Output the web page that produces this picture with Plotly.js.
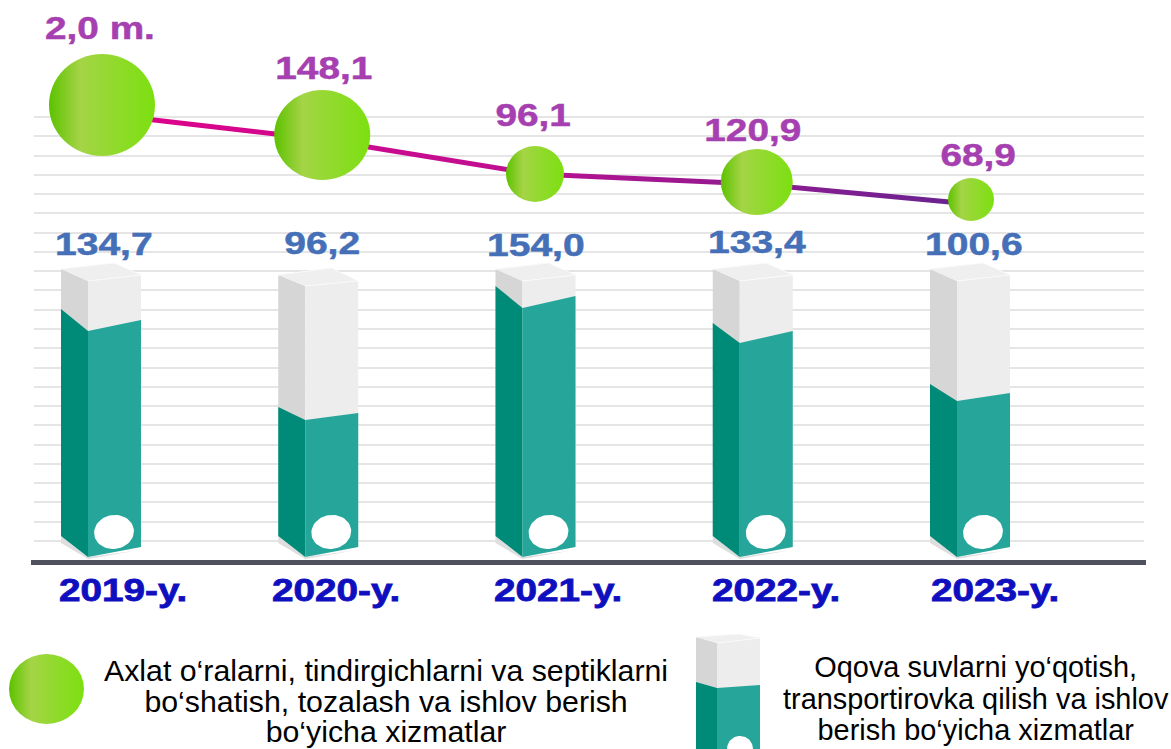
<!DOCTYPE html>
<html><head><meta charset="utf-8">
<script src="https://cdn.plot.ly/plotly-3.0.1.min.js"></script>
<style>html,body{margin:0;padding:0;background:#fff;overflow:hidden}</style>
</head><body><div id="chart" style="width:1171px;height:749px"></div>
<script>
// ---- chart content ----
const years = ['2019-y.', '2020-y.', '2021-y.', '2022-y.', '2023-y.'];
const wasteLabels = ['2,0 m.', '148,1', '96,1', '120,9', '68,9'];
const waterLabels = ['134,7', '96,2', '154,0', '133,4', '100,6'];
const legendWaste = ['Axlat o\u2018ralarni, tindirgichlarni va septiklarni', 'bo\u2018shatish, tozalash va ishlov berish', 'bo\u2018yicha xizmatlar'];
const legendWater = ['Oqova suvlarni yo\u2018qotish,', 'transportirovka qilish va ishlov', 'berish bo\u2018yicha xizmatlar'];

// ---- levels (decorative scale, height above the bar foot) ----
const fillFront = [237, 144, 261, 226, 164];   // teal height at right edge of the front face
const fillInner = [226, 137, 249, 214, 156];   // teal height at the front corner
const fillLeft  = [248, 150, 271, 234, 173];   // teal height at left edge of side face
const capLeft   = [288, 282, 288, 288, 288];
const capBack   = [294, 289, 294, 294, 294];
const capRight  = [282, 276, 282, 282, 282];
const capInner  = [276, 271, 276, 276, 276];
const bubbleLevel = [452, 422, 383, 375, 357.5];
const lineLevel   = [443, 417.5, 383, 373, 353];
const bubbleWidth  = [106, 96, 58, 72, 46];
const bubbleHeight = [102, 90, 56, 66, 43];
const wasteLabelLevel = [529, 489, 442, 427, 402];
const waterLabelLevel = [313, 314, 312, 315, 313];

// ---- page geometry ----
const W = 1171, H = 749, STEP = 217.25, X0 = 114.5, FOOT = 557;
const xPage = p => (p - X0) / STEP;
const yPage = p => FOOT - p;
const off = px => px / STEP;
const bubbleShift = [-12.5, -9.5, -14, -9.5, -12.5];
const wasteLabelShift = [-14.5, -7.5, -16, -13.5, -5.5];
const waterLabelShift = [-10.5, -10, -13, -9, -9.5];
const yearShift = [8, 4.5, 9, 9.5, 11.5];
const SIDE = 27, FRONT = 53;

const idx = years.map((_, i) => i);
function poly(list) { // list of [[x,y],...] polygons -> null separated
  const x = [], y = [];
  list.forEach(p => { p.forEach(q => { x.push(q[0]); y.push(q[1]); }); x.push(null); y.push(null); });
  return {x, y};
}
function area(color, list, line) {
  const p = poly(list);
  return {type:'scatter', mode:'lines', x:p.x, y:p.y, xaxis:'x2', yaxis:'y2', fill:'toself', fillcolor:color,
          line: line || {width:0, color:color}, hoverinfo:'skip', showlegend:false};
}
function ellipse(cx, cy, rx, ry, tilt) {
  const out = [];
  for (let a = 0; a <= 360; a += 6) {
    const t = a * Math.PI / 180, ex = rx * Math.cos(t), ey = ry * Math.sin(t);
    const c = Math.cos(tilt), s = Math.sin(tilt);
    out.push([cx + off(ex * c - ey * s), cy + (ex * s + ey * c)]);
  }
  return out;
}
// one column: side/front/cap polygons around centre c
function col(c, foot, fL, fI, fR, cL, cB, cR, cI, side, front) {
  const xl = c - off(front / 2 + side), xi = c - off(front / 2), xr = c + off(front / 2), xb = xr - off(side);
  return {
    shadow: [[xl, foot + 21], [xi, foot], [xr, foot + 7], [xr - off(1), foot + 7], [xi, foot - 2], [xl, foot + 14]],
    sideGrey: [[xl, cL], [xi, cI], [xi, foot], [xl, foot + 21]],
    frontGrey: [[xi, cI], [xr, cR], [xr, foot + 10], [xi, foot]],
    cap: [[xl, cL], [xb, cB], [xr, cR], [xi, cI]],
    sideTeal: [[xl, fL], [xi, fI], [xi, foot], [xl, foot + 21]],
    frontTeal: [[xi, fI], [xr, fR], [xr, foot + 10], [xi, foot]]
  };
}
const cols = idx.map(i => col(i, 0, fillLeft[i], fillInner[i], fillFront[i], capLeft[i], capBack[i], capRight[i], capInner[i], SIDE, FRONT));
// legend glyph column
const legendCol = col(xPage(738.5), yPage(790), yPage(682), yPage(688), yPage(685), yPage(637), yPage(634), yPage(638), yPage(643), 21, 43);

const gather = k => cols.map(c => c[k]).concat([legendCol[k]]);
const holes = idx.map(i => ellipse(i - off(0.5), 25, 20, 17, 0.15)).concat([ellipse(xPage(740), yPage(749), 13, 13, 0)]);

const traces = [
  {type:'scatter', mode:'none', x:[0,1], y:[0,1], xaxis:'x', yaxis:'y', hoverinfo:'skip', showlegend:false},
  {type:'scatter', mode:'lines', x:[xPage(31), xPage(1146)], y:[yPage(562.5), yPage(562.5)], xaxis:'x2', yaxis:'y2',
   line:{color:'#50515f', width:5}, hoverinfo:'skip', showlegend:false},
  area('#dedede', cols.map(c => c.shadow)),
  area('#d6d6d6', gather('sideGrey')),
  area('#ededed', gather('frontGrey')),
  area('#efefef', gather('cap'), {width:1, color:'#fafafa'}),
  area('#008b79', gather('sideTeal')),
  area('#26a69a', gather('frontTeal')),
  area('#ffffff', holes),
  {type:'scatter', mode:'lines', x:idx.map(i => i + off(bubbleShift[i])), y:lineLevel, xaxis:'x2', yaxis:'y2',
   line:{color:'#c00f90', width:5}, hoverinfo:'skip', showlegend:false},
  {type:'scatter', mode:'markers', x:idx.map(i => i + off(bubbleShift[i])), y:bubbleLevel, xaxis:'x2', yaxis:'y2',
   marker:{size:bubbleWidth, sizemode:'diameter', opacity:1, color:'#7fe015', line:{width:0}, gradient:{type:'horizontal', color:'#5fc400'}},
   hoverinfo:'skip', showlegend:false},
  {type:'scatter', mode:'markers', x:[xPage(46.5)], y:[yPage(689)], xaxis:'x2', yaxis:'y2',
   marker:{size:[75], sizemode:'diameter', opacity:1, color:'#7fe015', line:{width:0}, gradient:{type:'horizontal', color:'#5fc400'}},
   hoverinfo:'skip', showlegend:false}
];

const notes = [], stretches = [], strokes = [], spacing = [];
function note(text, x, y, size, color, stretch, stroke, lineGap) {
  notes.push({text:text, x:x, y:y, xref:'x2', yref:'y2', showarrow:false, xanchor:'center', yanchor:'middle',
              font:{family:'"Liberation Sans", Arial, sans-serif', size:size, color:color, weight: stroke ? 700 : 400}});
  stretches.push(stretch); strokes.push(stroke ? [color, stroke] : null); spacing.push(lineGap || 0);
}
idx.forEach(i => {
  note(wasteLabels[i], i + off(wasteLabelShift[i]), wasteLabelLevel[i], 31, '#a63fb0', 1.25, 0.5);
  note(waterLabels[i], i + off(waterLabelShift[i]), waterLabelLevel[i], 31, '#4570b8', 1.26, 0.5);
  note(years[i], i + off(yearShift[i]), yPage(590), 32, '#0f0fbf', 1.21, 0.8);
});
// legend texts: first-line centre + 1.3em, since the block is centred before the line gap is tightened
note(legendWaste.join('<br>'), xPage(386), yPage(671 + 1.3 * 30.3), 30.3, '#000000', 1, 0, 30.5);
note(legendWater.join('<br>'), xPage(975.5), yPage(667 + 1.3 * 28.9), 28.9, '#000000', 1, 0, 31.5);

const GRID = 19.27;
const layout = {
  width:W, height:H, margin:{l:0, r:0, t:0, b:0, pad:0}, paper_bgcolor:'#fff', plot_bgcolor:'rgba(0,0,0,0)', showlegend:false,
  xaxis:{domain:[34/W, 1144/W], range:[0,1], visible:true, showgrid:false, zeroline:false, showticklabels:false, ticks:'', showline:false, anchor:'y', fixedrange:true},
  yaxis:{domain:[1 - (541 + GRID)/H, 1 - (117 - GRID)/H], range:[-1,23], tick0:0, dtick:1, showgrid:true, gridcolor:'#e5e5e5', gridwidth:2, zeroline:false, showticklabels:false, ticks:'', showline:false, anchor:'x', fixedrange:true},
  xaxis2:{domain:[0,1], range:[xPage(0), xPage(W)], visible:false, anchor:'y2', fixedrange:true},
  yaxis2:{domain:[0,1], range:[yPage(H), yPage(0)], visible:false, anchor:'x2', fixedrange:true},
  annotations:notes
};

Plotly.newPlot('chart', traces, layout, {displayModeBar:false, staticPlot:true}).then(() => {
  const ns = 'http://www.w3.org/2000/svg';
  // three-stop sheen on the bubbles
  document.querySelectorAll('.gradients linearGradient, defs linearGradient').forEach(g => {
    while (g.firstChild) g.removeChild(g.firstChild);
    g.setAttribute('x1','0'); g.setAttribute('x2','1'); g.setAttribute('y1','0'); g.setAttribute('y2','0');
    [[0,'#5cc200'],[0.3,'#a6d447'],[0.38,'#9ed63e'],[1,'#7ce010']].forEach(s => {
      const st = document.createElementNS(ns,'stop');
      st.setAttribute('offset', s[0]); st.setAttribute('stop-color', s[1]); g.appendChild(st);
    });
  });
  // slightly flattened bubbles
  const ratios = bubbleHeight.map((h, i) => h / bubbleWidth[i]).concat([70/75]);
  document.querySelectorAll('.scatterlayer .points path').forEach((p, i) => {
    p.setAttribute('transform', p.getAttribute('transform') + ' scale(1,' + ratios[i] + ')');
  });
  // line colour runs from magenta to violet
  const defs = document.querySelector('.main-svg defs');
  const lg = document.createElementNS(ns,'linearGradient');
  lg.setAttribute('id','lineFade');
  [[0,'#e0008a'],[0.45,'#c00f90'],[1,'#662490']].forEach(s => {
    const st = document.createElementNS(ns,'stop'); st.setAttribute('offset', s[0]); st.setAttribute('stop-color', s[1]); lg.appendChild(st);
  });
  defs.appendChild(lg);
  document.querySelectorAll('.scatterlayer .trace').forEach(t => {
    const l = t.querySelector('.js-line');
    if (l && l.style.stroke && /192, 15, 144|c00f90/.test(l.style.stroke)) l.style.stroke = 'url(#lineFade)';
  });
  // wide lettering of the labels, tight line gap of the legend texts
  stretches.forEach((s, i) => {
    const t = document.querySelector('.annotation[data-index="' + i + '"] text');
    if (!t) return;
    if (s !== 1) { t.setAttribute('textLength', (t.getComputedTextLength() * s).toFixed(1)); t.setAttribute('lengthAdjust','spacingAndGlyphs'); }
    if (strokes[i]) { t.style.stroke = strokes[i][0]; t.style.strokeWidth = strokes[i][1] + 'px'; }
    if (spacing[i]) t.querySelectorAll('tspan.line').forEach((l, k) => l.setAttribute('dy', (k * spacing[i]) + 'px'));
  });
});
</script></body></html>
